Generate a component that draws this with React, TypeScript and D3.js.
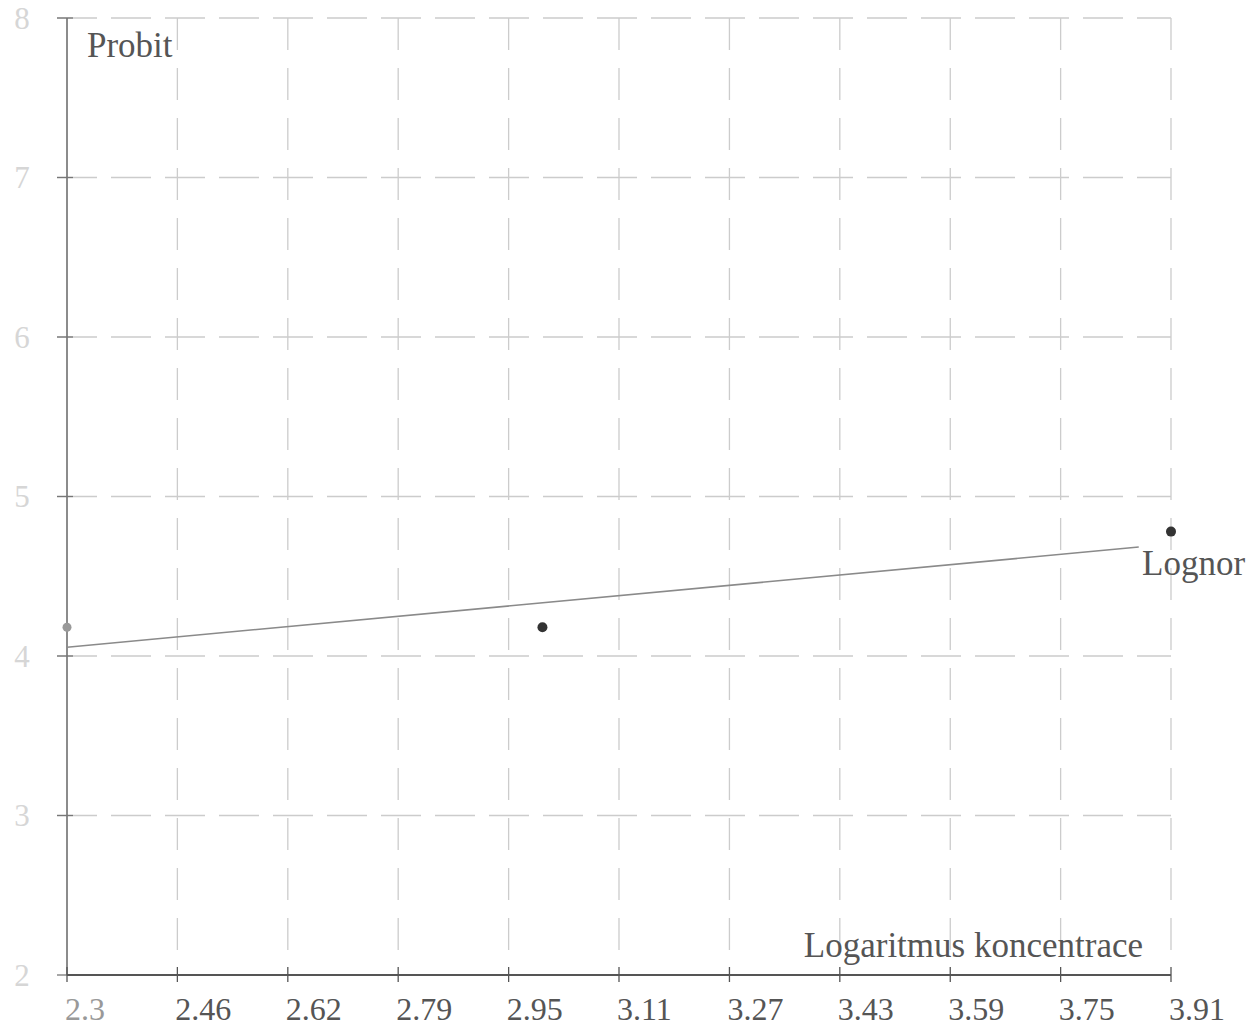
import React from "react";
import * as d3 from "d3";

const xTickValues = [2.3026, 2.4635, 2.6245, 2.7854, 2.9464, 3.1073, 3.2683, 3.4292, 3.5902, 3.7511, 3.912];
const xTickLabels = ["2.3", "2.46", "2.62", "2.79", "2.95", "3.11", "3.27", "3.43", "3.59", "3.75", "3.91"];
const yTickValues = [2, 3, 4, 5, 6, 7, 8];
const yTickLabels = ["2", "3", "4", "5", "6", "7", "8"];

const pointX = [2.3026, 2.9957, 3.912];
const pointY = [4.18, 4.18, 4.78];

const fitX = [2.3026, 3.865];
const fitY = [4.055, 4.683];

const W = 1249;
const H = 1027;

export default function App() {
  const x = d3.scaleLinear().domain([2.3026, 3.912]).range([67, 1171]);
  const y = d3.scaleLinear().domain([2, 8]).range([975, 18]);
  const font = "'Liberation Serif', 'DejaVu Serif', serif";
  const line = d3
    .line<number>()
    .x((_, i) => x(fitX[i]))
    .y((_, i) => y(fitY[i]));

  return (
    <svg
      width={W}
      height={H}
      style={{ position: "absolute", left: 0, top: 0, background: "#fff" }}
      fontFamily={font}
    >
      {/* horizontal grid */}
      {yTickValues.slice(1).map((v) => (
        <line
          key={"hg" + v}
          x1={x(2.3026) - 10}
          x2={x(3.912)}
          y1={y(v)}
          y2={y(v)}
          stroke="#cccccc"
          strokeWidth={1.3}
          strokeDasharray="40 14"
        />
      ))}
      {/* vertical grid */}
      {xTickValues.slice(1).map((v) => (
        <line
          key={"vg" + v}
          x1={x(v)}
          x2={x(v)}
          y1={y(8)}
          y2={y(2) - 8}
          stroke="#cccccc"
          strokeWidth={1.3}
          strokeDasharray="32 18"
        />
      ))}
      {/* y axis */}
      <line x1={x(2.3026)} x2={x(2.3026)} y1={y(8)} y2={y(2)} stroke="#666" strokeWidth={1.5} />
      {yTickValues.map((v, i) => (
        <g key={"yt" + v}>
          <line x1={x(2.3026) - 10} x2={x(2.3026) + 6} y1={y(v)} y2={y(v)} stroke="#777" strokeWidth={1.3} />
          <text x={22} y={y(v)} dy="0.35em" textAnchor="middle" fontSize={31} fill="#d6d6d6">
            {yTickLabels[i]}
          </text>
        </g>
      ))}
      {/* x axis */}
      <line x1={x(2.3026)} x2={x(3.912)} y1={y(2)} y2={y(2)} stroke="#555" strokeWidth={1.8} />
      {xTickValues.map((v, i) => (
        <g key={"xt" + v}>
          <line x1={x(v)} x2={x(v)} y1={y(2) - 8} y2={y(2) + 7} stroke="#555" strokeWidth={1.3} />
          <text
            x={x(v) - 2}
            y={1020}
            fontSize={32}
            fill={i === 0 ? "#999" : "#555"}
          >
            {xTickLabels[i]}
          </text>
        </g>
      ))}
      {/* fitted line */}
      <path d={line(fitX) || ""} fill="none" stroke="#8a8a8a" strokeWidth={1.6} />
      {/* points */}
      {pointX.map((v, i) => (
        <circle
          key={"p" + i}
          cx={x(v)}
          cy={y(pointY[i])}
          r={i === 0 ? 4.5 : 5}
          fill={i === 0 ? "#999" : "#333"}
        />
      ))}
      {/* labels */}
      <text x={87} y={57} fontSize={35} fill="#555">
        Probit
      </text>
      <text x={1143} y={957} textAnchor="end" fontSize={35} fill="#555">
        Logaritmus koncentrace
      </text>
      <text x={1142} y={575} fontSize={35} fill="#555">
        Lognor
      </text>
    </svg>
  );
}
